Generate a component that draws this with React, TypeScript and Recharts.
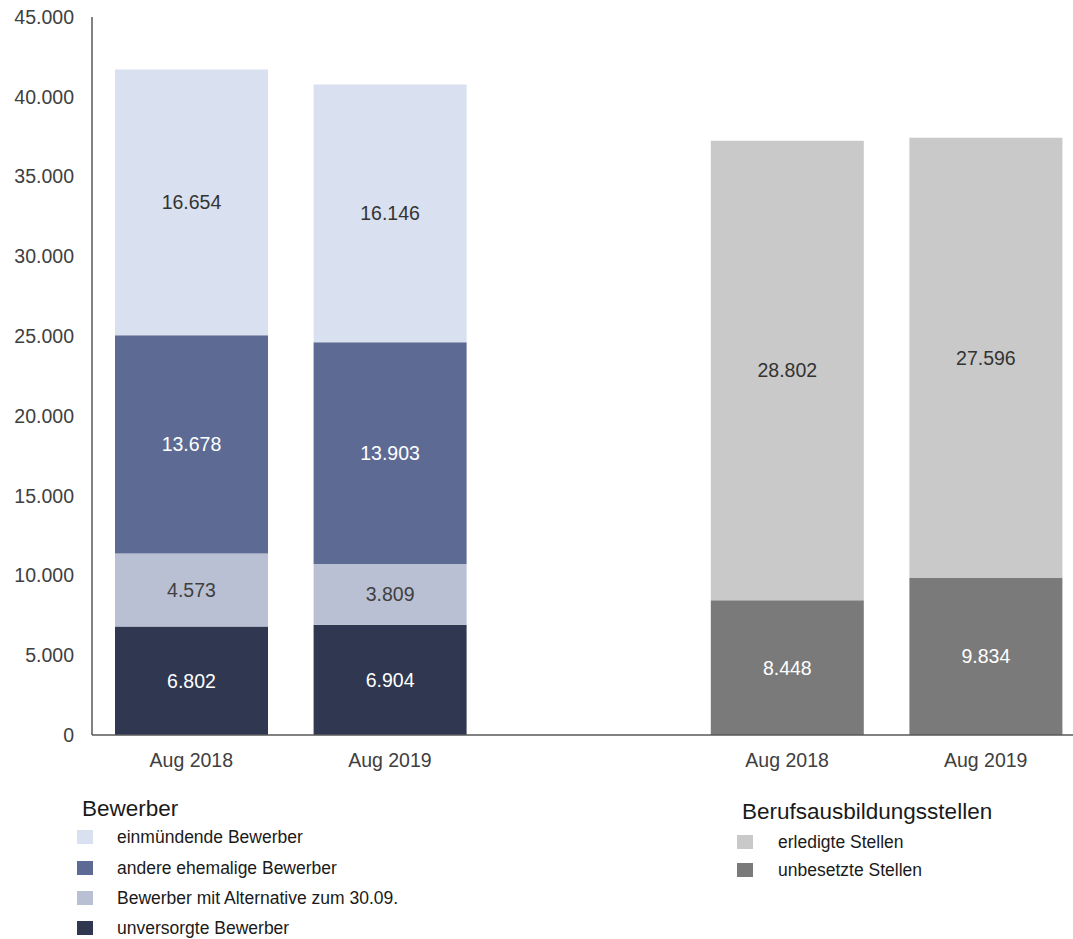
import { BarChart, Bar, XAxis, YAxis, LabelList } from 'recharts'

const categories = ['b2018', 'b2019', 'gap', 's2018', 's2019']
const tickLabels = ['Aug 2018', 'Aug 2019', '', 'Aug 2018', 'Aug 2019']

// Bewerber (bottom to top)
const unversorgt = [6802, 6904, 0, 0, 0]
const alternative = [4573, 3809, 0, 0, 0]
const andere = [13678, 13903, 0, 0, 0]
const einmuendende = [16654, 16146, 0, 0, 0]
// Berufsausbildungsstellen (bottom to top)
const unbesetzt = [0, 0, 0, 8448, 9834]
const erledigt = [0, 0, 0, 28802, 27596]

const yTicks = [0, 5000, 10000, 15000, 20000, 25000, 30000, 35000, 40000, 45000]

const bewerberSeries = [
  { key: 'unversorgt', name: 'unversorgte Bewerber', color: '#2f3850', text: '#ffffff' },
  { key: 'alternative', name: 'Bewerber mit Alternative zum 30.09.', color: '#b9c0d3', text: '#404040' },
  { key: 'andere', name: 'andere ehemalige Bewerber', color: '#5d6b94', text: '#ffffff' },
  { key: 'einmuendende', name: 'einmündende Bewerber', color: '#d9e0ef', text: '#333333' },
]
const stellenSeries = [
  { key: 'unbesetzt', name: 'unbesetzte Stellen', color: '#7a7a7a', text: '#ffffff' },
  { key: 'erledigt', name: 'erledigte Stellen', color: '#c9c9c9', text: '#333333' },
]

const data = categories.map((c, i) => ({
  id: c,
  unversorgt: unversorgt[i],
  alternative: alternative[i],
  andere: andere[i],
  einmuendende: einmuendende[i],
  unbesetzt: unbesetzt[i],
  erledigt: erledigt[i],
}))

const fmt = (v: any) => {
  const n = Number(v)
  if (!n) return ''
  return String(Math.round(n)).replace(/\B(?=(\d{3})+(?!\d))/g, '.')
}

const FONT = '"Liberation Sans", Arial, sans-serif'

function LegendGroup({ title, items, left, titleY, itemYs, textLeft }: any) {
  return (
    <>
      <div style={{ position: 'absolute', left, top: titleY - 13, lineHeight: '26px', fontSize: 22.5, color: '#1a1a1a' }}>{title}</div>
      {items.map((s: any, i: number) => (
        <div key={s.key}>
          <div style={{ position: 'absolute', left: left - 5, top: itemYs[i] - 7, width: 16, height: 14, background: s.color }} />
          <div style={{ position: 'absolute', left: textLeft, top: itemYs[i] - 10, lineHeight: '20px', fontSize: 17.5, color: '#1a1a1a', whiteSpace: 'nowrap' }}>{s.name}</div>
        </div>
      ))}
    </>
  )
}

export default function App() {
  const all = [...bewerberSeries, ...stellenSeries]
  return (
    <div style={{ position: 'absolute', left: 0, top: 0, width: 1073, height: 939, overflow: 'hidden', fontFamily: FONT, background: '#fff' }}>
      <BarChart width={1086} height={939} data={data} margin={{ top: 17, right: 1, left: 0, bottom: 174 }} barSize={153}>
        <XAxis
          dataKey="id"
          tickFormatter={(_v: any, i: number) => tickLabels[i]}
          axisLine={{ stroke: '#595959', strokeWidth: 1.5 }}
          tickLine={false}
          tickSize={6}
          tickMargin={12}
          height={30}
          interval={0}
          tick={{ fill: '#404040', fontSize: 19.5, fontFamily: FONT }}
        />
        <YAxis
          domain={[0, 45000]}
          ticks={yTicks}
          width={92}
          tickFormatter={(v: any) => (v === 0 ? '0' : fmt(v))}
          axisLine={{ stroke: '#595959', strokeWidth: 1.5 }}
          tickLine={false}
          tickSize={6}
          tickMargin={12}
          interval={0}
          tick={{ fill: '#404040', fontSize: 19.5, fontFamily: FONT }}
        />
        {all.map(s => (
          <Bar key={s.key} dataKey={s.key} name={s.name} stackId="a" fill={s.color} isAnimationActive={false}>
            <LabelList dataKey={s.key} position="center" formatter={fmt} fill={s.text} style={{ fontSize: 19.5, fontFamily: FONT }} />
          </Bar>
        ))}
      </BarChart>
      <LegendGroup
        title="Bewerber"
        items={[...bewerberSeries].reverse()}
        left={82}
        titleY={809}
        itemYs={[837, 868, 898, 928]}
        textLeft={117}
      />
      <LegendGroup
        title="Berufsausbildungsstellen"
        items={[...stellenSeries].reverse()}
        left={742}
        titleY={812}
        itemYs={[842, 870]}
        textLeft={778}
      />
    </div>
  )
}
